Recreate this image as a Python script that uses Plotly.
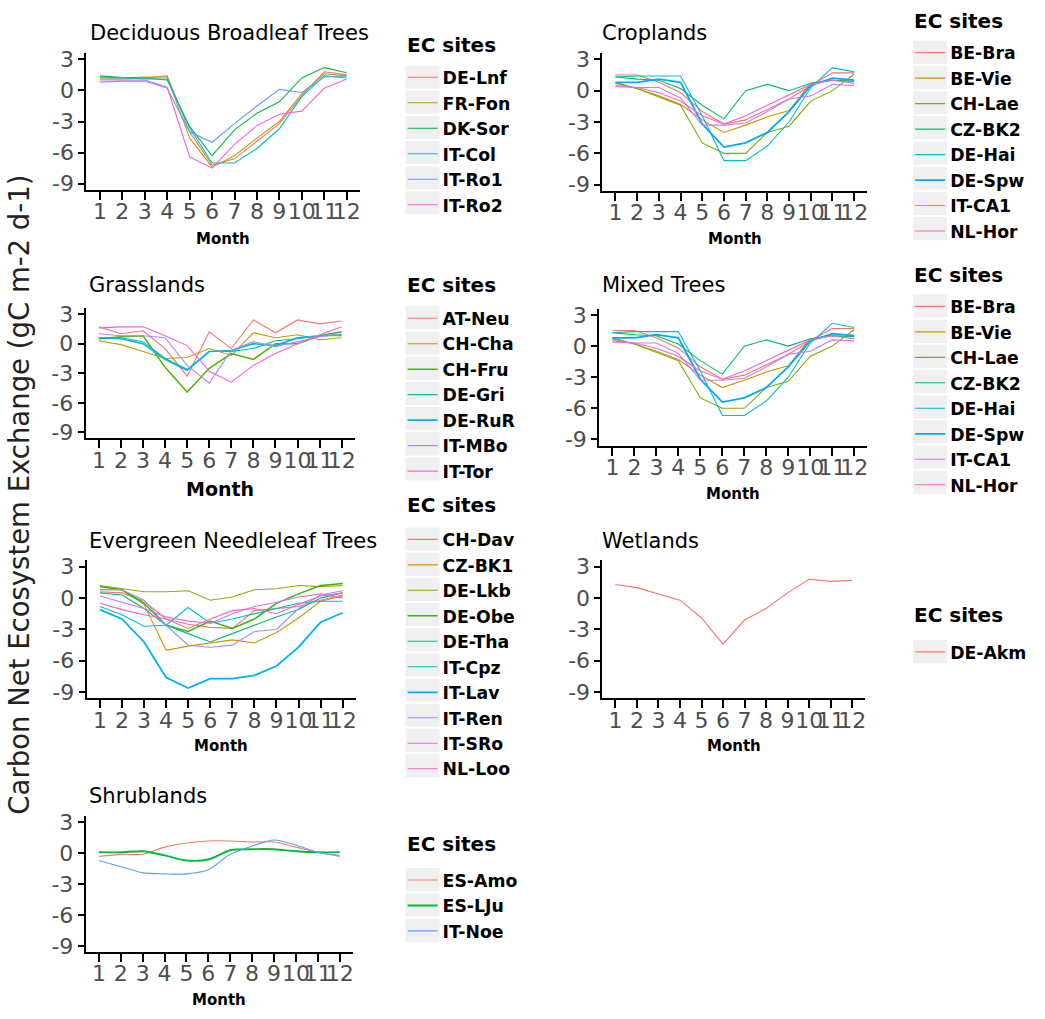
import plotly.graph_objects as go

W, H = 1045, 1019

months = list(range(1, 13))
month_labels = [str(m) for m in months]
y_ticks = [-9, -6, -3, 0, 3]
y_tick_labels = ["-9", "-6", "-3", "0", "3"]

# ---------------- data ----------------
dbf_sites = ["DE-Lnf", "FR-Fon", "DK-Sor", "IT-Col", "IT-Ro1", "IT-Ro2"]
dbf_values = [
    [1.1, 1.1, 1.2, 1.4, -4.0, -7.2, -6.6, -4.9, -3.2, -0.5, 1.8, 1.5],
    [1.2, 1.2, 1.3, 1.3, -4.6, -7.4, -6.3, -4.6, -3.0, -0.3, 1.6, 1.4],
    [1.4, 1.25, 1.2, 1.0, -3.5, -6.3, -3.8, -2.2, -1.1, 1.2, 2.2, 1.7],
    [1.3, 1.2, 1.1, 1.1, -3.6, -7.0, -7.0, -5.6, -3.7, -0.6, 1.4, 1.2],
    [0.8, 0.9, 0.9, 0.2, -4.0, -5.0, -3.2, -1.5, 0.1, -0.2, 1.3, 1.4],
    [1.0, 1.0, 1.0, 0.3, -6.4, -7.5, -5.2, -3.4, -2.3, -2.0, 0.2, 1.1],
]

crop_sites = ["BE-Bra", "BE-Vie", "CH-Lae", "CZ-BK2", "DE-Hai", "DE-Spw", "IT-CA1", "NL-Hor"]
crop_values = [
    [1.5, 1.5, 0.8, -0.2, -2.0, -3.2, -2.8, -1.8, -0.8, 0.5, 1.7, 1.7],
    [0.8, 0.2, -0.5, -1.3, -2.8, -4.0, -3.3, -2.5, -1.9, 0.7, 1.0, 0.9],
    [0.7, 0.2, -0.6, -1.4, -5.0, -6.0, -6.0, -4.0, -3.4, -1.0, 0.0, 1.6],
    [1.3, 1.1, 1.0, 0.2, -1.4, -2.7, 0.0, 0.6, 0.0, 0.7, 1.0, 0.9],
    [1.3, 1.4, 1.4, 1.4, -2.4, -6.7, -6.7, -5.3, -3.0, 0.3, 2.2, 1.8],
    [0.8, 0.8, 1.1, 0.8, -3.2, -5.4, -5.0, -4.0, -2.0, 0.5, 1.2, 1.0],
    [0.5, 0.3, 0.3, -0.7, -3.3, -3.3, -3.1, -2.0, -0.8, -0.5, 0.6, 0.5],
    [0.4, 0.3, -0.2, -1.0, -2.4, -3.2, -2.4, -1.4, -0.4, 0.6, 1.0, 0.7],
]

grass_sites = ["AT-Neu", "CH-Cha", "CH-Fru", "DE-Gri", "DE-RuR", "IT-MBo", "IT-Tor"]
grass_values = [
    [1.7, 1.0, 1.3, -0.5, -3.3, 1.2, -0.5, 2.4, 1.1, 2.4, 2.0, 2.3],
    [0.3, -0.1, -0.8, -1.5, -1.4, -0.5, -1.2, 1.1, 0.6, 0.9, 0.4, 0.6],
    [0.5, 0.7, 0.8, -2.4, -4.9, -2.5, -1.0, -1.6, 0.0, 0.0, 0.8, 1.2],
    [0.6, 0.6, 0.2, -1.5, -2.6, -0.8, -0.8, -0.5, 0.3, 0.5, 0.8, 0.8],
    [0.6, 0.5, 0.0, -1.6, -2.7, -0.8, -0.7, 0.0, -0.2, 0.6, 0.8, 0.9],
    [1.0, 0.8, 0.8, 0.6, -2.2, -4.0, -0.7, 0.2, -0.3, 0.2, 0.7, 1.0],
    [1.6, 1.7, 1.7, 0.8, -0.2, -2.8, -3.9, -2.2, -1.0, 0.0, 0.9, 1.7],
]

mixed_sites = ["BE-Bra", "BE-Vie", "CH-Lae", "CZ-BK2", "DE-Hai", "DE-Spw", "IT-CA1", "NL-Hor"]
mixed_values = [
    [1.5, 1.5, 0.8, -0.2, -2.0, -3.2, -2.8, -1.8, -0.8, 0.5, 1.7, 1.7],
    [0.8, 0.2, -0.5, -1.3, -2.8, -4.0, -3.3, -2.5, -1.9, 0.7, 1.0, 0.9],
    [0.7, 0.2, -0.6, -1.4, -5.0, -6.0, -6.0, -4.0, -3.4, -1.0, 0.0, 1.6],
    [1.3, 1.1, 1.0, 0.2, -1.4, -2.7, 0.0, 0.6, 0.0, 0.7, 1.0, 0.9],
    [1.3, 1.4, 1.4, 1.4, -2.4, -6.7, -6.7, -5.3, -3.0, 0.3, 2.2, 1.8],
    [0.8, 0.8, 1.1, 0.8, -3.2, -5.4, -5.0, -4.0, -2.0, 0.5, 1.2, 1.0],
    [0.5, 0.3, 0.3, -0.7, -3.3, -3.3, -3.1, -2.0, -0.8, -0.5, 0.6, 0.5],
    [0.4, 0.3, -0.2, -1.0, -2.4, -3.2, -2.4, -1.4, -0.4, 0.6, 1.0, 0.7],
]

enf_sites = ["CH-Dav", "CZ-BK1", "DE-Lkb", "DE-Obe", "DE-Tha", "IT-Cpz", "IT-Lav", "IT-Ren", "IT-SRo", "NL-Loo"]
enf_values = [
    [0.6, 0.5, -0.3, -2.0, -2.5, -2.8, -2.9, -1.2, -1.0, -0.8, -0.2, 0.3],
    [0.8, 0.8, -0.6, -5.0, -4.6, -4.3, -4.0, -4.3, -3.3, -1.9, -0.3, 0.2],
    [1.2, 0.9, 0.6, 0.6, 0.7, -0.2, 0.1, 0.8, 0.9, 1.2, 1.1, 1.2],
    [1.1, 0.8, -0.5, -2.6, -3.2, -2.2, -2.9, -2.0, -0.5, 0.4, 1.2, 1.4],
    [0.5, 0.3, -1.0, -2.6, -3.4, -4.2, -3.4, -2.6, -1.8, -1.1, 0.0, 0.5],
    [-0.8, -1.6, -2.7, -2.6, -0.9, -2.4, -2.0, -1.5, -1.0, -0.5, -0.3, -0.3],
    [-1.1, -2.0, -4.2, -7.6, -8.6, -7.7, -7.7, -7.4, -6.5, -4.7, -2.3, -1.4],
    [0.8, 0.8, -0.2, -2.6, -4.5, -4.7, -4.5, -3.2, -3.0, -1.0, 0.3, 0.7],
    [0.2, -0.4, -1.0, -1.8, -2.2, -2.4, -1.5, -0.8, -0.4, 0.1, 0.4, 0.0],
    [-0.5, -1.1, -1.6, -2.0, -2.9, -2.0, -1.2, -1.0, -1.5, -0.6, 0.2, 0.5],
]

wet_sites = ["DE-Akm"]
wet_values = [
    [1.3, 1.0, 0.4, -0.2, -1.9, -4.4, -2.1, -1.0, 0.5, 1.8, 1.6, 1.7],
]

shrub_sites = ["ES-Amo", "ES-LJu", "IT-Noe"]
shrub_values = [
    [-0.3, -0.1, -0.1, 0.6, 1.0, 1.2, 1.2, 1.1, 1.1, 0.6, 0.1, -0.3],
    [0.1, 0.1, 0.2, -0.2, -0.7, -0.6, 0.3, 0.4, 0.4, 0.2, 0.1, 0.1],
    [-0.7, -1.3, -1.9, -2.0, -2.0, -1.6, -0.1, 0.7, 1.3, 0.8, 0.1, -0.2],
]

legend_title = "EC sites"
y_title = "Carbon Net Ecosystem Exchange (gC m-2 d-1)"

# ---------------- styles ----------------
pal = {
    1: ["#F8766D"],
    3: ["#F8766D", "#00BA38", "#619CFF"],
    6: ["#F8766D", "#B79F00", "#00BA38", "#00BFC4", "#619CFF", "#F564E3"],
    7: ["#F8766D", "#C49A00", "#53B400", "#00C094", "#00B6EB", "#A58AFF", "#FB61D7"],
    8: ["#F8766D", "#CD9600", "#7CAE00", "#00BE67", "#00BFC4", "#00A9FF", "#C77CFF", "#FF61CC"],
    10: ["#F8766D", "#D89000", "#A3A500", "#39B600", "#00BF7D", "#00BFC4", "#00B0F6",
         "#9590FF", "#E76BF3", "#FF62BC"],
}
thick = {"DE-Spw": 1.8, "IT-Lav": 1.8, "ES-LJu": 1.9, "CH-Fru": 1.5, "DE-Obe": 1.5, "DE-RuR": 1.6}

FONT = "DejaVu Sans"
LEG_FS = 17.3
ITEM_H = 1.3 * LEG_FS + 3

# panel layout in pixels: (title, sites, values, month1_px, month12_px, y3_px, ym9_px,
#   title_xy, month_label_y, month_font, legend_title_xy, first_item_y, spline)
panels = [
    ("Deciduous Broadleaf Trees", dbf_sites, dbf_values, 100, 347, 54, 180, (88, 27), 236, 15, (405, 40), 72, False),
    ("Croplands", crop_sites, crop_values, 616, 855, 54, 181, (601, 27), 236, 15, (913, 15), 47, False),
    ("Grasslands", grass_sites, grass_values, 99, 342, 312, 432, (87, 283), 489, 19, (405, 283), 316, False),
    ("Mixed Trees", mixed_sites, mixed_values, 613, 855, 313, 439, (601, 283), 494, 15, (913, 272), 304, False),
    ("Evergreen Needleleaf Trees", enf_sites, enf_values, 100, 343, 568, 695, (87, 542), 750, 15, (405, 505), 540, False),
    ("Wetlands", wet_sites, wet_values, 616, 853, 568, 695, (601, 542), 750, 15, (913, 617), 654, False),
    ("Shrublands", shrub_sites, shrub_values, 99, 340, 827, 952, (87, 800), 1007, 15, (405, 849), 885, True),
]

fig = go.Figure()
annotations = []
shapes = []
layout = {}

for i, (title, sites, vals, m1, m12, y3, ym9, txy, mly, mfs, ltxy, fy, spline) in enumerate(panels):
    k = "" if i == 0 else str(i + 1)
    ppx = (m12 - m1) / 11.0
    ppy = (ym9 - y3) / 12.0
    x0 = m1 - 0.6 * ppx
    x1 = m12 + 0.6 * ppx
    top = y3 - 0.6 * ppy
    bot = ym9 + 0.6 * ppy
    colors = pal[len(sites)]
    legname = "legend" + k
    for j, (s, v) in enumerate(zip(sites, vals)):
        fig.add_trace(go.Scatter(
            x=months, y=v, name=s, mode="lines",
            line=dict(color=colors[j], width=thick.get(s, 1.1),
                      shape="spline" if spline else "linear", smoothing=0.8),
            xaxis="x" + k, yaxis="y" + k, legend=legname, showlegend=True,
        ))
    layout["xaxis" + k] = dict(
        domain=[x0 / W, x1 / W], anchor="y" + k, range=[0.4, 12.6],
        tickmode="array", tickvals=months, ticktext=month_labels, tickangle=0,
        showline=True, linecolor="black", linewidth=2, ticks="outside", ticklen=8,
        tickwidth=2, tickcolor="black", showgrid=False, zeroline=False,
        ticklabelstandoff=-7,
        tickfont=dict(family=FONT, size=22, color="#4D4D4D"), fixedrange=True,
    )
    layout["yaxis" + k] = dict(
        domain=[1 - bot / H, 1 - top / H], anchor="x" + k, range=[-9.6, 3.6],
        tickmode="array", tickvals=y_ticks, ticktext=y_tick_labels,
        showline=True, linecolor="black", linewidth=2, ticks="outside", ticklen=6,
        tickwidth=2, tickcolor="black", showgrid=False, zeroline=False,
        tickfont=dict(family=FONT, size=22, color="#4D4D4D"), fixedrange=True,
    )
    annotations.append(dict(
        text=title, x=txy[0] / W, y=1 - txy[1] / H, xref="paper", yref="paper",
        xanchor="left", yanchor="middle", showarrow=False,
        font=dict(family=FONT, size=21, color="black"),
    ))
    annotations.append(dict(
        text="Month", x=(x0 + x1) / 2 / W, y=1 - mly / H, xref="paper", yref="paper",
        xanchor="center", yanchor="middle", showarrow=False,
        font=dict(family=FONT, size=mfs, color="black", weight="bold"),
    ))
    # legend title as text
    annotations.append(dict(
        text=legend_title, x=ltxy[0] / W, y=1 - ltxy[1] / H, xref="paper", yref="paper",
        xanchor="left", yanchor="middle", showarrow=False,
        font=dict(family=FONT, size=20, color="black", weight="bold"),
    ))
    lx = ltxy[0] - 2
    layout[legname] = dict(
        x=lx / W, y=1 - (fy - ITEM_H / 2 - 5) / H, xanchor="left", yanchor="top",
        bgcolor="rgba(0,0,0,0)", borderwidth=0,
        font=dict(family=FONT, size=LEG_FS, color="black", weight="bold"),
        itemclick=False, itemdoubleclick=False,
    )
    # grey legend key backgrounds
    for j in range(len(sites)):
        cy = fy + j * ITEM_H
        shapes.append(dict(
            type="rect", xref="paper", yref="paper", layer="below",
            x0=(lx + 3) / W, x1=(lx + 37) / W,
            y0=1 - (cy - ITEM_H / 2 + 1) / H, y1=1 - (cy + ITEM_H / 2 - 1) / H,
            fillcolor="#F0F0F0", line=dict(width=0),
        ))

annotations.append(dict(
    text=y_title, x=19 / W, y=1 - 495 / H,
    xref="paper", yref="paper", xanchor="center", yanchor="middle", textangle=-90,
    showarrow=False, font=dict(family=FONT, size=27.5, color="#222222"),
))

fig.update_layout(
    width=W, height=H, margin=dict(l=0, r=0, t=0, b=0),
    paper_bgcolor="white", plot_bgcolor="white",
    annotations=annotations, shapes=shapes, **layout,
)

fig.write_html("out.html")
